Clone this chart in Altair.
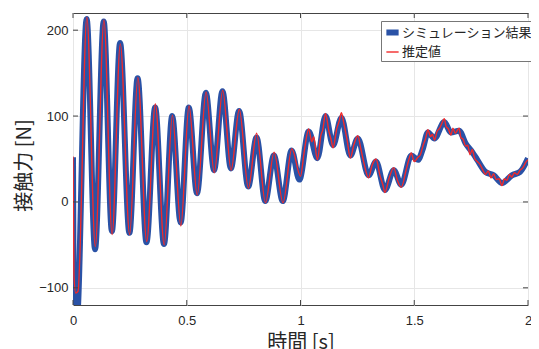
import altair as alt
import pandas as pd

series_names = ["シミュレーション結果", "推定値"]

sim_t = [0.000, 0.003, 0.016, 0.060, 0.097, 0.135, 0.171, 0.207, 0.248, 0.284,
         0.323, 0.361, 0.400, 0.436, 0.473, 0.509, 0.545, 0.584, 0.620, 0.657,
         0.694, 0.730, 0.770, 0.807, 0.845, 0.883, 0.922, 0.961, 0.995, 1.036,
         1.074, 1.110, 1.143, 1.180, 1.219, 1.252, 1.299, 1.332, 1.371, 1.410,
         1.443, 1.487, 1.516, 1.538, 1.560, 1.589, 1.632, 1.661, 1.697, 1.726,
         1.755, 1.777, 1.813, 1.849, 1.886, 1.929, 1.965, 2.000]
sim_v = [52, -130, -140, 213, -55, 210, -34, 185, -36, 144,
         -47, 110, -49, 100, -24, 110, 10, 127, 37, 129,
         39, 106, 18, 75, 1, 54, 1, 60, 26, 82,
         51, 100, 66, 98, 54, 74, 31, 47, 14, 37,
         20, 54, 49, 62, 81, 74, 93, 81, 83, 68,
         58, 49, 35, 31, 22, 31, 35, 51]

est_t = [0.000, 0.004, 0.012, 0.022, 0.061, 0.098, 0.136, 0.172, 0.208, 0.249,
         0.285, 0.324, 0.362, 0.401, 0.437, 0.474, 0.510, 0.546, 0.585, 0.621,
         0.658, 0.695, 0.731, 0.771, 0.807, 0.846, 0.884, 0.923, 0.962,
         1.000, 1.016, 1.036, 1.050, 1.058, 1.074, 1.090, 1.098, 1.110, 1.125,
         1.135, 1.143, 1.160, 1.170, 1.180, 1.190, 1.205, 1.219, 1.235, 1.252,
         1.265, 1.280, 1.299, 1.315, 1.332, 1.350, 1.362, 1.371, 1.390, 1.410,
         1.425, 1.443, 1.465, 1.475, 1.487, 1.500, 1.516, 1.527, 1.538, 1.550,
         1.560, 1.572, 1.580, 1.589, 1.600, 1.612, 1.622, 1.632, 1.640, 1.650,
         1.661, 1.670, 1.680, 1.697, 1.705, 1.715, 1.726, 1.735, 1.745, 1.755,
         1.765, 1.777, 1.788, 1.800, 1.813, 1.825, 1.838, 1.849, 1.860, 1.873,
         1.886, 1.896, 1.907, 1.918, 1.929, 1.940, 1.952, 1.965, 1.978, 1.990,
         2.000]
est_v = [53, -85, -106, -104, 215, -52, 212, -38, 184, -38,
         145, -46, 114, -50, 101, -28, 112, 8, 128, 34,
         130, 37, 108, 16, 80, -1, 58, -1, 62,
         30, 58, 85, 70, 76, 49, 78, 84, 103, 82,
         72, 63, 86, 94, 104, 92, 72, 51, 67, 77,
         62, 44, 28, 43, 50, 30, 20, 11, 28, 40,
         26, 17, 38, 48, 57, 47, 52, 55, 65, 74,
         84, 76, 79, 72, 82, 86, 92, 97, 88, 85,
         78, 86, 80, 86, 75, 73, 65, 66, 55, 61,
         51, 47, 44, 38, 32, 36, 28, 33, 26, 27,
         19, 27, 25, 32, 29, 34, 32, 37, 40, 46,
         49]

x_ticks = [0, 0.5, 1, 1.5, 2]
y_ticks = [-100, 0, 100, 200]

sim = pd.DataFrame({"t": sim_t, "v": sim_v, "s": series_names[0]})
est = pd.DataFrame({"t": est_t, "v": est_v, "s": series_names[1]})
xt = pd.DataFrame({"t": x_ticks})
yt = pd.DataFrame({"v": y_ticks})

W, H = 455, 292
LABEL_FONT = "Liberation Sans"
CJK = "Noto Sans CJK JP"

xs = alt.Scale(domain=[0, 2], nice=False, zero=False)
ys = alt.Scale(domain=[-120, 220], nice=False, zero=False)

x_enc = alt.X("t:Q", scale=xs, title="時間 [s]",
              axis=alt.Axis(values=x_ticks, format="~g", labelFlush=False,
                            labelPadding=9, titlePadding=5))
y_enc = alt.Y("v:Q", scale=ys, title="接触力 [N]",
              axis=alt.Axis(values=y_ticks, labelPadding=5, titlePadding=4, titleY=152))

legend = alt.Legend(orient="none", legendX=308, legendY=8, title=None,
                    symbolType="stroke", symbolSize=150, labelFont=CJK,
                    labelFontSize=13, labelColor="#262626", fillColor="white",
                    strokeColor="#777777", padding=2, rowPadding=0, labelOffset=0)
color = alt.Color("s:N", scale=alt.Scale(domain=series_names, range=["#2A52A6", "#F22A2A"]),
                  legend=legend)
width_enc = alt.StrokeWidth("s:N", scale=alt.Scale(domain=series_names, range=[6, 1.4]),
                            legend=legend)

blue = alt.Chart(sim).mark_line(interpolate="monotone", clip=True).encode(
    x=x_enc, y=y_enc, color=color, strokeWidth=width_enc)
red = alt.Chart(est).mark_line(interpolate="monotone", clip=True).encode(
    x=alt.X("t:Q", scale=xs), y=alt.Y("v:Q", scale=ys), color=color, strokeWidth=width_enc)

tick_color = "#444444"
xb = alt.Chart(xt).mark_rule(color=tick_color, strokeWidth=1).encode(
    x=alt.X("t:Q", scale=xs), y=alt.value(H), y2=alt.value(H - 5))
xtop = alt.Chart(xt).mark_rule(color=tick_color, strokeWidth=1).encode(
    x=alt.X("t:Q", scale=xs), y=alt.value(0), y2=alt.value(5))
yl = alt.Chart(yt).mark_rule(color=tick_color, strokeWidth=1).encode(
    y=alt.Y("v:Q", scale=ys), x=alt.value(0), x2=alt.value(5))
yr = alt.Chart(yt).mark_rule(color=tick_color, strokeWidth=1).encode(
    y=alt.Y("v:Q", scale=ys), x=alt.value(W), x2=alt.value(W - 5))

chart = alt.layer(blue, red, xb, xtop, yl, yr).properties(
    width=W, height=H,
    autosize=alt.AutoSizeParams(type="none"),
    padding={"left": 65, "top": 5, "right": 3, "bottom": 44},
    background="white",
).configure_view(
    stroke="#444444", strokeWidth=1
).configure_axis(
    grid=True, gridColor="#E6E6E6", gridWidth=1, domain=False, ticks=False,
    labelFont=LABEL_FONT, labelFontSize=13, labelColor="#262626",
    titleFont=CJK, titleFontSize=20, titleFontWeight="normal", titleColor="#262626",
)

chart.save("out.html", embed_options={"renderer": "svg", "actions": False})
